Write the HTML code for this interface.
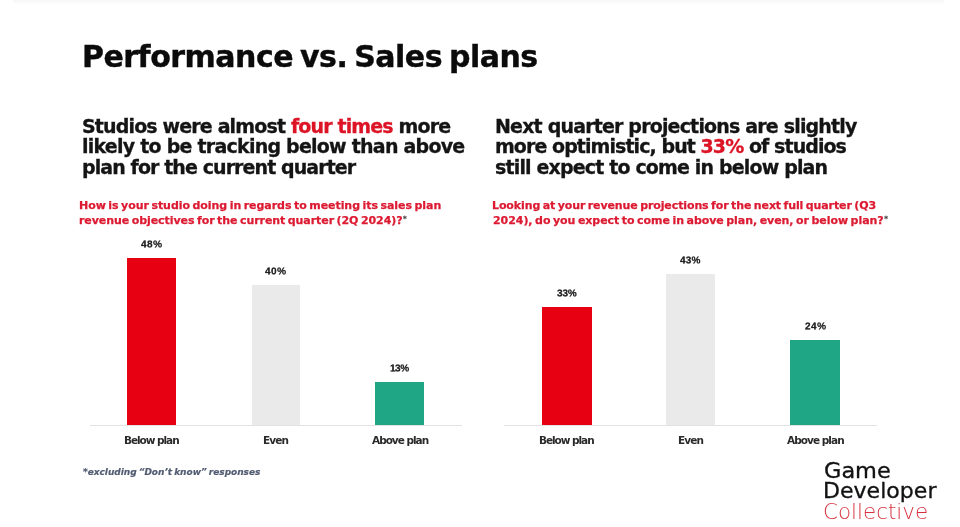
<!DOCTYPE html>
<html><head><meta charset="utf-8">
<style>
html,body{margin:0;padding:0;background:#fff;}
body{width:960px;height:527px;position:relative;overflow:hidden;font-family:"DejaVu Sans","Liberation Sans",sans-serif;}
.t{position:absolute;white-space:nowrap;will-change:transform;}
.h1{font-weight:bold;font-size:30px;line-height:30px;color:#0b0b0b;word-spacing:-3px;-webkit-text-stroke:0.4px #0b0b0b;}
.h2{font-weight:bold;font-size:19px;line-height:20px;color:#141414;-webkit-text-stroke:0.3px #141414;}
.q{font-weight:bold;font-size:11px;line-height:13px;color:#dc1a32;word-spacing:-1.2px;-webkit-text-stroke:0.25px #dc1a32;}
.r{color:#dc1426;-webkit-text-stroke:0.3px #dc1426;}
.ast{color:#444;font-size:7px;vertical-align:3px;-webkit-text-stroke:0.2px #444;margin-left:0.5px;}
.pct{font-family:"Liberation Sans",sans-serif;font-weight:bold;font-size:20px;line-height:20px;color:#222;letter-spacing:1px;transform:scale(0.5);transform-origin:0 0;-webkit-text-stroke:0.5px #222;}
.xl{font-weight:bold;font-size:10.5px;line-height:11px;color:#2a2a2a;}
.bar{position:absolute;}
.red{background:#e60012;}
.gray{background:#eaeaea;}
.green{background:#1fa685;}
.axis{position:absolute;height:1px;background:#e2e2e2;}
.fn{font-weight:bold;font-style:italic;font-size:9px;line-height:10px;color:#525c72;word-spacing:-1px;-webkit-text-stroke:0.2px #525c72;}
.logo{font-size:20.5px;line-height:20px;color:#111;transform-origin:0 0;}
</style></head><body>
<div style="position:absolute;left:13px;top:0;width:931px;height:2px;background:#f8f8f8;"></div>
<div style="position:absolute;left:13px;top:2px;width:931px;height:2px;background:#fcfcfc;"></div>
<div id="title" class="t h1" style="left:82px;top:41.7px;letter-spacing:-0.504px;">Performance vs. Sales plans</div>

<div id="l1" class="t h2" style="left:82px;top:115.9px;letter-spacing:-0.85px;">Studios were almost <span class="r">four times</span> more</div>
<div id="l2" class="t h2" style="left:82px;top:136.4px;letter-spacing:-0.76px;">likely to be tracking below than above</div>
<div id="l3" class="t h2" style="left:82px;top:156.9px;letter-spacing:-0.91px;">plan for the current quarter</div>
<div id="r1" class="t h2" style="left:495px;top:115.9px;letter-spacing:-0.82px;">Next quarter projections are slightly</div>
<div id="r2" class="t h2" style="left:495px;top:136.4px;letter-spacing:-0.93px;">more optimistic, but <span class="r">33%</span> of studios</div>
<div id="r3" class="t h2" style="left:495px;top:156.9px;letter-spacing:-0.84px;">still expect to come in below plan</div>

<div id="ql1" class="t q" style="left:78.7px;top:199.2px;letter-spacing:-0.057px;">How is your studio doing in regards to meeting its sales plan</div>
<div id="ql2" class="t q" style="left:78.7px;top:212.8px;letter-spacing:-0.07px;">revenue objectives for the current quarter (2Q 2024)?<span class="ast">*</span></div>
<div id="qr1" class="t q" style="left:491.9px;top:199.2px;letter-spacing:-0.107px;">Looking at your revenue projections for the next full quarter (Q3</div>
<div id="qr2" class="t q" style="left:492.8px;top:212.8px;letter-spacing:-0.056px;">2024), do you expect to come in above plan, even, or below plan?<span class="ast">*</span></div>

<!-- left chart -->
<div class="axis" style="left:90px;top:425px;width:372px;"></div>
<div class="bar red" style="left:127px;top:258px;width:49px;height:167px;"></div>
<div class="bar gray" style="left:251.5px;top:285px;width:48.5px;height:140px;"></div>
<div class="bar green" style="left:375px;top:382px;width:49px;height:43px;"></div>
<div id="p1" class="t pct" style="left:141px;top:239.0px;">48%</div>
<div id="p2" class="t pct" style="left:265px;top:265.7px;">40%</div>
<div id="p3" class="t pct" style="left:390.2px;top:362.5px;"><span style="letter-spacing:-1.2px">1</span><span style="letter-spacing:-0.6px">3</span>%</div>
<div id="x1" class="t xl" style="left:124px;top:435.3px;letter-spacing:-1.04px;">Below plan</div>
<div id="x2" class="t xl" style="left:263px;top:435.3px;letter-spacing:-0.9px;">Even</div>
<div id="x3" class="t xl" style="left:371.8px;top:435.3px;letter-spacing:-1.0px;">Above plan</div>

<!-- right chart -->
<div class="axis" style="left:504px;top:425px;width:373px;"></div>
<div class="bar red" style="left:542px;top:307px;width:49.5px;height:118px;"></div>
<div class="bar gray" style="left:666px;top:274px;width:49px;height:151px;"></div>
<div class="bar green" style="left:790.4px;top:340.4px;width:49.2px;height:84.6px;"></div>
<div id="p4" class="t pct" style="left:556.5px;top:288.4px;letter-spacing:-0.2px;">33%</div>
<div id="p5" class="t pct" style="left:680.2px;top:255.0px;letter-spacing:0.4px;">43%</div>
<div id="p6" class="t pct" style="left:804.5px;top:321.4px;">24%</div>
<div id="x4" class="t xl" style="left:539.2px;top:435.3px;letter-spacing:-1.04px;">Below plan</div>
<div id="x5" class="t xl" style="left:677.5px;top:435.3px;letter-spacing:-0.9px;">Even</div>
<div id="x6" class="t xl" style="left:787.2px;top:435.3px;letter-spacing:-0.95px;">Above plan</div>

<div id="fn" class="t fn" style="left:83px;top:467px;letter-spacing:-0.028px;">*excluding “Don’t know” responses</div>

<div id="g1" class="t logo" style="left:824px;top:461px;transform:scaleX(1.094);-webkit-text-stroke:0.3px #111;">Game</div>
<div id="g2" class="t logo" style="left:823px;top:481px;transform:scaleX(1.076);-webkit-text-stroke:0.3px #111;">Developer</div>
<div id="g3" class="t logo" style="left:823px;top:502px;font-weight:200;color:#d8323f;transform:scaleX(1.045);">Collective</div>
</body></html>
